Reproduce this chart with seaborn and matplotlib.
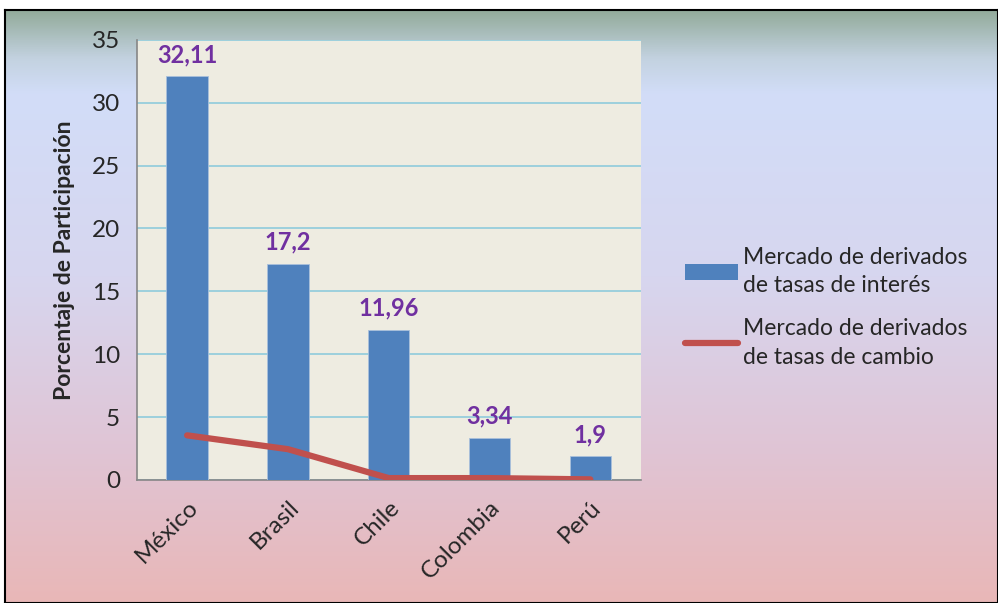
import numpy as np
import pandas as pd
import matplotlib
matplotlib.use('Agg')
import matplotlib.pyplot as plt
from matplotlib.colors import LinearSegmentedColormap
from matplotlib.patches import Patch
from matplotlib.lines import Line2D
import seaborn as sns

paises = ['México', 'Brasil', 'Chile', 'Colombia', 'Perú']
tasas_interes = [32.11, 17.2, 11.96, 3.34, 1.9]
tasas_cambio = [3.55, 2.45, 0.15, 0.15, 0.05]
etiquetas = ['32,11', '17,2', '11,96', '3,34', '1,9']

df = pd.DataFrame({'pais': paises, 'interes': tasas_interes, 'cambio': tasas_cambio})

sns.set_style('white')
plt.rcParams['font.family'] = ['Lato', 'DejaVu Sans']

fig = plt.figure(figsize=(9.98, 6.03), dpi=100)

# fondo degradado del area del grafico
bg = fig.add_axes([0.005, 0, 0.995, 0.983])
grad = LinearSegmentedColormap.from_list('fondo', [
    (0.0, '#93ab9b'), (0.08, '#c3d2e0'), (0.14, '#d2ddf8'),
    (0.45, '#d7d6ef'), (0.75, '#e0c4d4'), (1.0, '#e9b7b7')])
bg.imshow(np.linspace(0, 1, 256).reshape(-1, 1), aspect='auto', cmap=grad,
          extent=[0, 1, 0, 1])
bg.set_xticks([])
bg.set_yticks([])
for s in bg.spines.values():
    s.set_color('black')
    s.set_linewidth(1.5)
bg.set_zorder(0)

ax = fig.add_axes([0.137, 0.204, 0.505, 0.73])
ax.set_zorder(1)
ax.set_facecolor('#eeece1')

sns.barplot(data=df, x='pais', y='interes', color='#4f81bd', width=0.41,
            saturation=1, ax=ax, zorder=3, edgecolor='#a9c0dc', linewidth=0.6)
ax.plot(np.arange(len(paises)), df['cambio'], color='#c0504d', lw=4.5,
        solid_capstyle='round', zorder=4)

for i, (v, t) in enumerate(zip(tasas_interes, etiquetas)):
    ax.text(i, v + 0.8, t, ha='center', va='bottom', color='#7030a0',
            fontsize=17, fontweight='bold')

ax.set_ylim(0, 35)
ax.set_xlim(-0.5, 4.5)
ax.set_yticks(range(0, 36, 5))
ax.yaxis.grid(True, color='#8fcbdc', lw=1.2, zorder=0)
ax.set_axisbelow(True)
ax.set_xticks(np.arange(len(paises)))
ax.set_xticklabels(paises, rotation=45, ha='right', rotation_mode='anchor',
                   fontsize=17.5)
ax.set_xticks(np.arange(-0.5, 5, 1), minor=True)
ax.tick_params(axis='x', which='major', length=0, pad=12)
ax.tick_params(axis='x', which='minor', length=7, color='#868686', width=1.2,
               direction='out')
ax.tick_params(axis='y', length=6, color='#868686', width=1.2, direction='out',
               labelsize=17.5, pad=6)
ax.set_xlabel('')
ax.set_ylabel('Porcentaje de Participación', fontsize=16.5, fontweight='bold',
              labelpad=12)
for s in ['top', 'right']:
    ax.spines[s].set_visible(False)
for s in ['left', 'bottom']:
    ax.spines[s].set_color('#868686')
    ax.spines[s].set_linewidth(1.2)

handles = [Patch(facecolor='#4f81bd', edgecolor='none'),
           Line2D([0], [0], color='#c0504d', lw=4.5, solid_capstyle='round')]
labels = ['Mercado de derivados\nde tasas de interés',
          'Mercado de derivados\nde tasas de cambio']
leg = fig.legend(handles, labels, loc='upper left', bbox_to_anchor=(0.666, 0.625),
                 frameon=False, fontsize=16.5, handlelength=2.3,
                 handletextpad=0.2, labelspacing=0.95)
for t in leg.get_texts():
    t.set_linespacing(1.45)

fig.savefig('out.png', dpi=100)
